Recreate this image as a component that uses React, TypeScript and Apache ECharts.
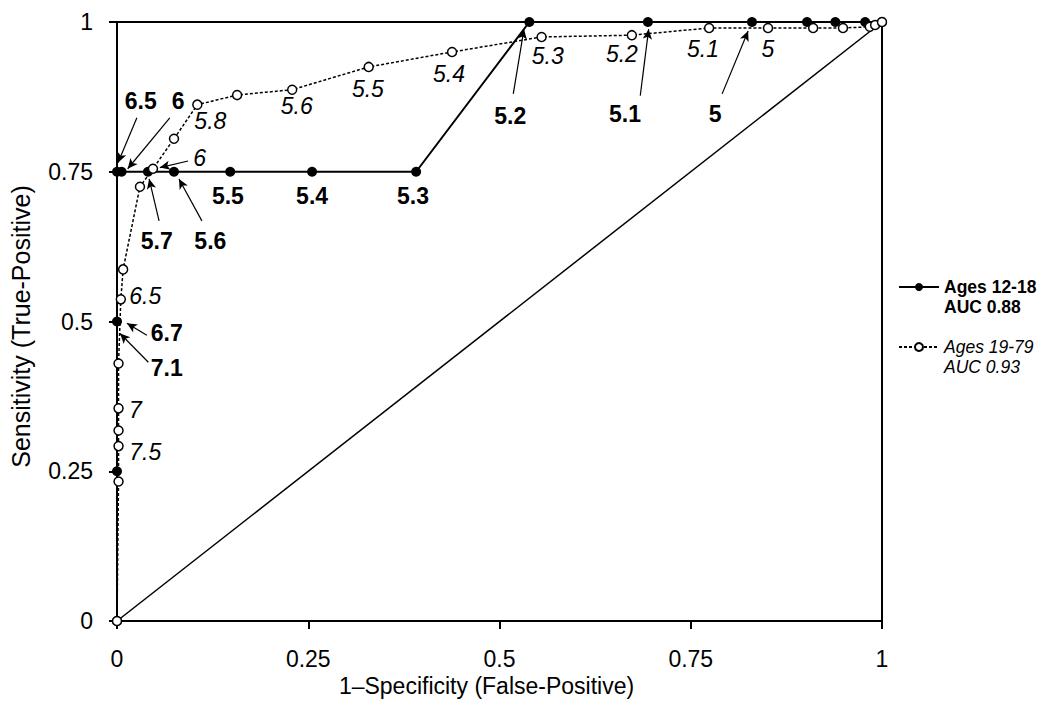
import React, { useEffect, useRef } from "react";
import * as echarts from "echarts";

// ROC points [1-specificity, sensitivity]
const ages1218: [number, number][] = [
  [0, 0], [0, 0.25], [0, 0.5], [0, 0.75], [0.006, 0.75], [0.0405, 0.75], [0.0745, 0.75],
  [0.148, 0.75], [0.255, 0.75], [0.391, 0.75], [0.539, 1], [0.694, 1], [0.83, 1],
  [0.902, 1], [0.939, 1], [0.978, 1], [1, 1],
];
const ages1979: [number, number][] = [
  [0, 0], [0.002, 0.233], [0.002, 0.292], [0.002, 0.318], [0.002, 0.355], [0.002, 0.43],
  [0.005, 0.537], [0.008, 0.587], [0.03, 0.725], [0.047, 0.755], [0.0745, 0.805],
  [0.105, 0.862], [0.157, 0.878], [0.229, 0.887], [0.329, 0.925], [0.438, 0.95],
  [0.555, 0.975], [0.673, 0.978], [0.774, 0.99], [0.851, 0.99], [0.91, 0.99],
  [0.949, 0.99], [0.984, 0.992], [0.991, 0.995], [1, 1],
];
const chanceLine: [number, number][] = [[0, 0], [1, 1]];

const seriesNames = ["Ages 12-18", "Ages 19-79"];
const aucTexts = ["AUC 0.88", "AUC 0.93"];
const xTitle = "1\u2013Specificity (False-Positive)";
const yTitle = "Sensitivity (True-Positive)";

// threshold labels: [text, x, y] in data coordinates
const boldLabels: [string, number, number][] = [
  ["6.5", 0.031, 0.868], ["6", 0.08, 0.868], ["5.7", 0.052, 0.635], ["5.6", 0.122, 0.635],
  ["5.5", 0.145, 0.71], ["5.4", 0.255, 0.71], ["5.3", 0.387, 0.71], ["5.2", 0.514, 0.843],
  ["5.1", 0.664, 0.847], ["5", 0.782, 0.847], ["6.7", 0.065, 0.48], ["7.1", 0.065, 0.422],
];
const italicLabels: [string, number, number][] = [
  ["5.8", 0.122, 0.835], ["6", 0.108, 0.773], ["5.6", 0.235, 0.86], ["5.5", 0.328, 0.888],
  ["5.4", 0.434, 0.913], ["5.3", 0.563, 0.943], ["5.2", 0.66, 0.947], ["5.1", 0.766, 0.955],
  ["5", 0.851, 0.955], ["6.5", 0.037, 0.543], ["7", 0.024, 0.352], ["7.5", 0.037, 0.282],
];
// arrows: [tailX, tailY, headX, headY] in data coordinates
const boldArrows: [number, number, number, number][] = [
  [0.026, 0.84, 0.0013, 0.765], [0.069, 0.84, 0.014, 0.755], [0.055, 0.668, 0.042, 0.738],
  [0.111, 0.668, 0.081, 0.738], [0.518, 0.88, 0.532, 0.988], [0.684, 0.877, 0.695, 0.988],
  [0.791, 0.88, 0.825, 0.985], [0.039, 0.477, 0.013, 0.497], [0.041, 0.432, 0.004, 0.48],
];
const italicArrows: [number, number, number, number][] = [[0.093, 0.768, 0.056, 0.757]];

const FONT = "'Liberation Sans', Arial, Helvetica, sans-serif";

function labelSeries(labels: [string, number, number][], arrows: [number, number, number, number][], italic: boolean) {
  return {
    type: "scatter",
    silent: true,
    symbol: "circle",
    symbolSize: 1,
    itemStyle: { color: "rgba(0,0,0,0)", opacity: 1 },
    z: 5,
    label: {
      show: true,
      position: [0.5, 0.5],
      align: "center",
      verticalAlign: "middle",
      formatter: (p: any) => p.name,
      color: "#000",
      opacity: 1,
      textBorderWidth: 0,
      textBorderColor: "transparent",
      fontFamily: FONT,
      fontSize: 23,
      fontWeight: italic ? "normal" : "bold",
      fontStyle: italic ? "italic" : "normal",
    },
    data: labels.map((l) => ({ name: l[0], value: [l[1], l[2]] })),
    markLine: {
      silent: true,
      symbol: ["none", "arrow"],
      symbolSize: [7, 10],
      label: { show: false },
      lineStyle: { color: "#000", width: 1.2, type: "solid", opacity: 1 },
      data: arrows.map((a) => [{ coord: [a[0], a[1]] }, { coord: [a[2], a[3]] }]),
    },
  };
}

export default function App() {
  const ref = useRef<HTMLDivElement>(null);
  useEffect(() => {
    if (!ref.current) return;
    const chart = echarts.init(ref.current, null, { renderer: "svg" });
    const axisCommon = {
      type: "value",
      min: 0,
      max: 1,
      interval: 0.25,
      splitLine: { show: false },
      axisLine: { show: true, onZero: false, lineStyle: { color: "#000", width: 2 } },
      axisTick: { show: true, length: 8, lineStyle: { color: "#000", width: 2 } },
      nameLocation: "middle",
    };
    const legendRich = {
      e: { lineHeight: 20, fontSize: 17.5 },
      b: { lineHeight: 20, fontSize: 17.5, fontWeight: "bold", fontFamily: FONT, color: "#000" },
      i: { lineHeight: 20, fontSize: 17.5, fontStyle: "italic", fontFamily: FONT, color: "#000" },
    };
    chart.setOption({
      animation: false,
      backgroundColor: "#fff",
      grid: { left: 117, right: 168, top: 22, bottom: 96, show: true, borderColor: "#000", borderWidth: 2 },
      xAxis: {
        ...axisCommon,
        name: xTitle,
        nameGap: 53,
        nameTextStyle: { color: "#000", fontSize: 23, fontFamily: FONT, padding: [0, 26, 0, 0] },
        axisLabel: { color: "#000", fontSize: 23, fontFamily: FONT, margin: 26 },
      },
      yAxis: {
        ...axisCommon,
        name: yTitle,
        nameGap: 84,
        nameTextStyle: { color: "#000", fontSize: 25, fontFamily: FONT, padding: [0, 10, 0, 0] },
        axisLabel: { color: "#000", fontSize: 23, fontFamily: FONT, margin: 24 },
      },
      legend: {
        orient: "vertical",
        left: 893,
        top: 253,
        itemWidth: 40,
        itemHeight: 10,
        itemGap: 2,
        selectedMode: false,
        formatter: (name: string) => {
          const k = seriesNames.indexOf(name);
          const s = k === 0 ? "b" : "i";
          return "{e| }\n{" + s + "|" + name + "}\n{" + s + "|" + aucTexts[k] + "}";
        },
        textStyle: { color: "#000", fontSize: 17.5, fontFamily: FONT, rich: legendRich },
        data: seriesNames,
      },
      series: [
        {
          type: "line",
          name: "chance",
          data: chanceLine,
          showSymbol: false,
          silent: true,
          lineStyle: { color: "#000", width: 1.5 },
          z: 1,
        },
        {
          type: "line",
          name: seriesNames[0],
          data: ages1218,
          symbol: "circle",
          symbolSize: 10,
          itemStyle: { color: "#000" },
          lineStyle: { color: "#000", width: 2 },
          z: 3,
        },
        {
          type: "line",
          name: seriesNames[1],
          data: ages1979,
          symbol: "circle",
          symbolSize: 9,
          itemStyle: { color: "#fff", borderColor: "#000", borderWidth: 1.5 },
          lineStyle: { color: "#000", width: 1.5, type: [3, 2] },
          z: 4,
        },
        labelSeries(boldLabels, boldArrows, false),
        labelSeries(italicLabels, italicArrows, true),
      ],
    });
    return () => chart.dispose();
  }, []);
  return <div ref={ref} style={{ position: "absolute", left: 0, top: 0, width: 1050, height: 717 }} />;
}
